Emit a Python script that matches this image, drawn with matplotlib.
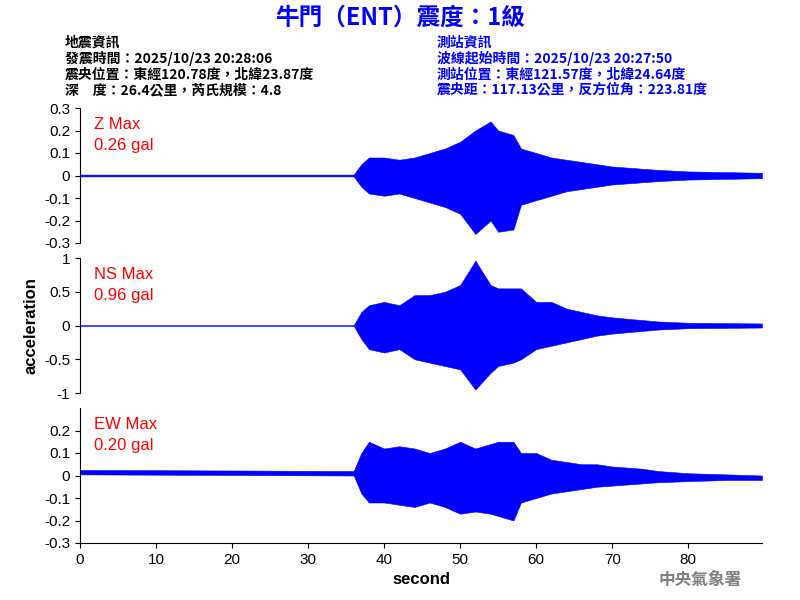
import matplotlib
matplotlib.use("Agg")
import matplotlib.pyplot as plt

plt.rcParams['font.family'] = ['Noto Sans CJK TC', 'DejaVu Sans']

# envelope (time in s, amplitude in gal)
t = [0, 36, 37, 38, 40, 42, 44, 46, 48, 50, 52, 54, 55, 57, 58, 60, 62, 64, 66, 68, 70, 72, 74, 76, 80, 85, 89.7]
z_up = [0.004, 0.004, 0.05, 0.08, 0.08, 0.07, 0.08, 0.10, 0.12, 0.15, 0.20, 0.24, 0.20, 0.18, 0.12, 0.10, 0.08, 0.07, 0.06, 0.05, 0.04, 0.035, 0.03, 0.025, 0.018, 0.015, 0.012]
z_lo = [-0.004, -0.004, -0.05, -0.08, -0.09, -0.08, -0.10, -0.12, -0.14, -0.17, -0.26, -0.20, -0.25, -0.24, -0.13, -0.11, -0.09, -0.07, -0.06, -0.05, -0.04, -0.035, -0.03, -0.025, -0.018, -0.015, -0.012]
ns_up = [0.005, 0.005, 0.2, 0.3, 0.35, 0.3, 0.45, 0.45, 0.5, 0.6, 0.96, 0.6, 0.55, 0.55, 0.55, 0.35, 0.35, 0.25, 0.2, 0.15, 0.12, 0.1, 0.08, 0.06, 0.04, 0.035, 0.03]
ns_lo = [-0.005, -0.005, -0.2, -0.35, -0.4, -0.35, -0.5, -0.55, -0.6, -0.65, -0.95, -0.7, -0.6, -0.55, -0.5, -0.35, -0.3, -0.25, -0.2, -0.15, -0.12, -0.1, -0.08, -0.06, -0.04, -0.035, -0.03]
ew_up = [0.025, 0.02, 0.10, 0.15, 0.12, 0.13, 0.12, 0.10, 0.12, 0.15, 0.12, 0.14, 0.15, 0.15, 0.10, 0.10, 0.07, 0.06, 0.05, 0.05, 0.04, 0.035, 0.03, 0.02, 0.01, 0.005, 0.0]
ew_lo = [0.005, 0.0, -0.08, -0.12, -0.12, -0.13, -0.14, -0.12, -0.14, -0.17, -0.16, -0.17, -0.18, -0.20, -0.12, -0.10, -0.08, -0.07, -0.06, -0.05, -0.045, -0.04, -0.035, -0.03, -0.025, -0.02, -0.02]

labels = [("Z Max", "0.26 gal"), ("NS Max", "0.96 gal"), ("EW Max", "0.20 gal")]
lims = [0.3, 1.0, 0.3]
ticks = [[0.3, 0.2, 0.1, 0, -0.1, -0.2, -0.3],
         [1, 0.5, 0, -0.5, -1],
         [0.2, 0.1, 0, -0.1, -0.2, -0.3]]
series = [(z_up, z_lo), (ns_up, ns_lo), (ew_up, ew_lo)]
SANS = "Liberation Sans"

fig = plt.figure(figsize=(8, 6), dpi=100)
bottoms = [0.595, 0.345, 0.095]
for i, b in enumerate(bottoms):
    ax = fig.add_axes([0.1, b, 0.8525, 0.225])
    up, lo = series[i]
    ax.fill_between(t, lo, up, color="blue", lw=0.4)
    ax.set_xlim(0, 89.7)
    ax.set_ylim(-lims[i], lims[i])
    ax.set_yticks(ticks[i])
    ax.set_yticklabels([f"{v:g}" for v in ticks[i]], fontsize=11, fontfamily=SANS)
    for s in ["top", "right"]:
        ax.spines[s].set_visible(False)
    if i < 2:
        ax.spines["bottom"].set_visible(False)
        ax.set_xticks([])
    else:
        xt = list(range(0, 90, 10))
        ax.set_xticks(xt)
        ax.set_xticklabels([str(v) for v in xt], fontsize=11, fontfamily=SANS)
        ax.set_xlabel("second", fontsize=12, fontweight="bold", fontfamily=SANS)
    if i == 1:
        ax.set_ylabel("acceleration", fontsize=12, fontweight="bold", fontfamily=SANS)
    ax.text(0.02, 0.93, labels[i][0], transform=ax.transAxes, color="red", fontsize=12, va="top", fontfamily=SANS)
    ax.text(0.02, 0.78, labels[i][1], transform=ax.transAxes, color="red", fontsize=12, va="top", fontfamily=SANS)

fig.text(0.5, 0.97, "牛門（ENT）震度：1級", color="blue", fontsize=17, fontweight="bold", ha="center", va="center")
left = ["地震資訊", "發震時間：2025/10/23 20:28:06", "震央位置：東經120.78度，北緯23.87度", "深　度：26.4公里，芮氏規模：4.8"]
right = ["測站資訊", "波線起始時間：2025/10/23 20:27:50", "測站位置：東經121.57度，北緯24.64度", "震央距：117.13公里，反方位角：223.81度"]
for k, (l, r) in enumerate(zip(left, right)):
    y = 1 - (43 + 15.7 * k) / 600
    fig.text(65 / 800, y, l, color="black", fontsize=10, fontweight="bold", va="center")
    fig.text(437 / 800, y, r, color="blue", fontsize=10, fontweight="bold", va="center")
fig.text(700 / 800, 1 - 580 / 600, "中央氣象署", color="gray", fontsize=12, fontweight="bold", ha="center", va="center")

fig.savefig("out.png", dpi=100)
